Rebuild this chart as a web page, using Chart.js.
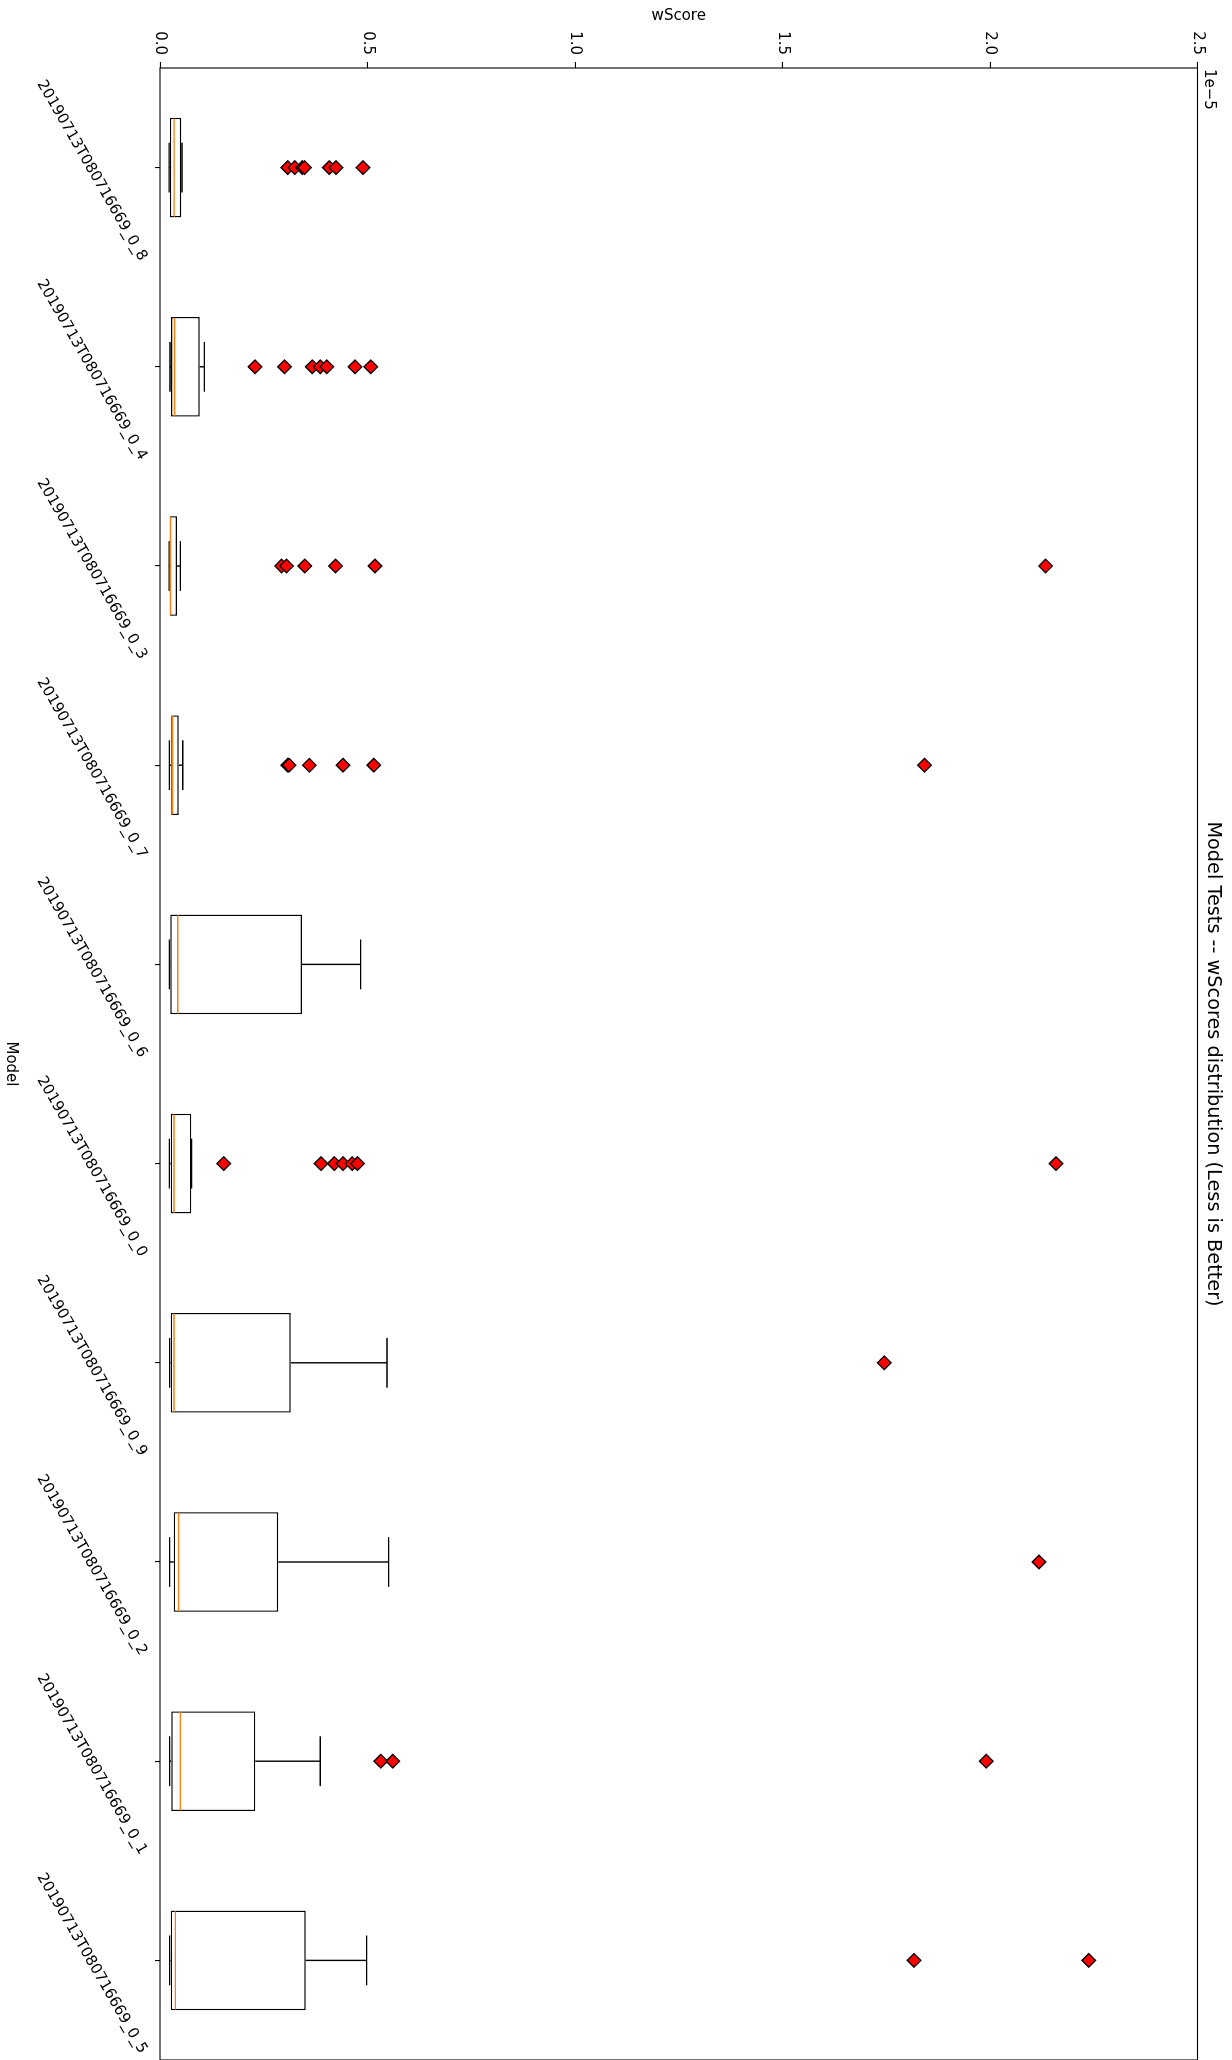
<!DOCTYPE html>
<html>
<head>
<meta charset="utf-8">
<title>Model Tests -- wScores distribution</title>
<script src="https://cdn.jsdelivr.net/npm/chart.js@4.4.1/dist/chart.umd.min.js"></script>
<style>
  html, body { margin: 0; padding: 0; background: #fff; overflow: hidden; }
  body { width: 1232px; height: 2060px; position: relative; }
  /* the figure is drawn upright, then turned a quarter clockwise like the reference */
  #wrap {
    position: absolute; left: 0; top: 0;
    width: 2060px; height: 1232px;
    transform-origin: 0 0;
    transform: translate(1232px, 0) rotate(90deg);
  }
</style>
</head>
<body>
<div id="wrap"><canvas id="chart" width="2060" height="1232"></canvas></div>
<script>
// 모델별 wScore 분포 (단위 1e-5)
const models = [
  '20190713T080716669_0_8', '20190713T080716669_0_4', '20190713T080716669_0_3',
  '20190713T080716669_0_7', '20190713T080716669_0_6', '20190713T080716669_0_0',
  '20190713T080716669_0_9', '20190713T080716669_0_2', '20190713T080716669_0_1',
  '20190713T080716669_0_5',
];
const whiskerLow  = [0.022, 0.024, 0.022, 0.0225, 0.0225, 0.0225, 0.0233, 0.0233, 0.0233, 0.0233];
const q1          = [0.024, 0.0265, 0.024, 0.027, 0.025, 0.0257, 0.0257, 0.033, 0.0273, 0.0257];
const medians     = [0.034, 0.035, 0.025, 0.0305, 0.0426, 0.0337, 0.0337, 0.045, 0.049, 0.037];
const q3          = [0.051, 0.0957, 0.041, 0.045, 0.342, 0.0755, 0.315, 0.285, 0.2297, 0.351];
const whiskerHigh = [0.053, 0.107, 0.049, 0.055, 0.4835, 0.076, 0.547, 0.551, 0.386, 0.498];
const outliers = [
  [0.308, 0.325, 0.343, 0.348, 0.408, 0.424, 0.489],
  [0.229, 0.300, 0.367, 0.386, 0.402, 0.470, 0.508],
  [0.293, 0.305, 0.349, 0.423, 0.518, 2.134],
  [0.308, 0.311, 0.360, 0.441, 0.515, 1.842],
  [],
  [0.1535, 0.388, 0.420, 0.441, 0.463, 0.476, 2.159],
  [1.745],
  [2.118],
  [0.532, 0.561, 1.991],
  [1.817, 2.238],
];
const yTicks = [0.0, 0.5, 1.0, 1.5, 2.0, 2.5];

const FONT = 'DejaVu Sans';
Chart.defaults.font.family = FONT;
Chart.defaults.color = '#000';

// 수염, 캡, 중앙값 그리기
const boxPlot = {
  id: 'boxPlot',
  afterDatasetsDraw(chart) {
    const { ctx, scales: { x, y } } = chart;
    const half = (x.getPixelForValue(1) - x.getPixelForValue(0)) * 0.25;
    const cap = half / 2;
    ctx.save();
    models.forEach((m, i) => {
      const cx = x.getPixelForValue(i);
      const yLo = y.getPixelForValue(whiskerLow[i]);
      const yHi = y.getPixelForValue(whiskerHigh[i]);
      ctx.strokeStyle = '#000';
      ctx.lineWidth = 1.4;
      ctx.beginPath();
      ctx.moveTo(cx, y.getPixelForValue(q1[i]));
      ctx.lineTo(cx, yLo);
      ctx.moveTo(cx, y.getPixelForValue(q3[i]));
      ctx.lineTo(cx, yHi);
      ctx.moveTo(cx - cap, yLo);
      ctx.lineTo(cx + cap, yLo);
      ctx.moveTo(cx - cap, yHi);
      ctx.lineTo(cx + cap, yHi);
      ctx.stroke();
      const ym = y.getPixelForValue(medians[i]);
      ctx.strokeStyle = '#ff7f0e';
      ctx.beginPath();
      ctx.moveTo(cx - half + 0.7, ym);
      ctx.lineTo(cx + half - 0.7, ym);
      ctx.stroke();
    });
    ctx.restore();
  },
  afterDraw(chart) {
    const { ctx, chartArea: a } = chart;
    ctx.save();
    ctx.strokeStyle = '#000';
    ctx.lineWidth = 1.1;
    ctx.strokeRect(a.left, a.top, a.right - a.left, a.bottom - a.top);
    ctx.fillStyle = '#000';
    ctx.textBaseline = 'middle';
    ctx.textAlign = 'center';
    ctx.font = `19.3px "${FONT}"`;
    ctx.fillText('Model Tests -- wScores distribution (Less is Better)', (a.left + a.right) / 2, 19);
    ctx.textAlign = 'left';
    ctx.font = `15px "${FONT}"`;
    ctx.fillText('1e\u22125', a.left + 1, 23);
    ctx.restore();
  },
};

const points = [];
outliers.forEach((list, i) => list.forEach((v) => points.push({ x: models[i], y: v })));

new Chart(document.getElementById('chart'), {
  type: 'bar',
  data: {
    labels: models,
    datasets: [
      {
        type: 'scatter',
        data: points,
        pointStyle: 'rectRot',
        pointRadius: 6.8,
        backgroundColor: '#ff0000',
        borderColor: '#000',
        borderWidth: 1.3,
        order: 0,
      },
      {
        data: q1.map((v, i) => [v, q3[i]]),
        backgroundColor: '#fff',
        borderColor: '#000',
        borderWidth: 1.4,
        borderSkipped: false,
        barPercentage: 0.5,
        categoryPercentage: 1.0,
        order: 1,
      },
    ],
  },
  options: {
    responsive: false,
    devicePixelRatio: 1,
    animation: false,
    layout: { autoPadding: false, padding: { top: 34.5, left: 0, right: 0, bottom: 0 } },
    plugins: {
      legend: { display: false },
      tooltip: { enabled: false },
    },
    scales: {
      x: {
        type: 'category',
        offset: true,
        border: { display: false },
        grid: { drawOnChartArea: false, offset: false, tickLength: 5, color: '#000', lineWidth: 1.1 },
        ticks: {
          autoSkip: false, minRotation: 30, maxRotation: 30,
          labelOffset: 92, padding: 4, color: '#000', font: { size: 15 },
        },
        title: { display: true, text: 'Model', color: '#000', font: { size: 15 }, padding: { top: 0, bottom: 2 } },
        afterFit: (s) => { s.height = 160; s.paddingLeft = 0; s.paddingRight = 0; },
      },
      y: {
        min: 0,
        max: 2.5,
        border: { display: false },
        grid: { drawOnChartArea: false, tickLength: 6, color: '#000', lineWidth: 1.1 },
        afterBuildTicks: (s) => { s.ticks = yTicks.map((v) => ({ value: v })); },
        ticks: { callback: (v) => Number(v).toFixed(1), padding: 7, color: '#000', font: { size: 15 } },
        title: { display: true, text: 'wScore', color: '#000', font: { size: 15 }, padding: { top: 7, bottom: 0 } },
        afterFit: (s) => { s.width = 68; s.paddingTop = 0; s.paddingBottom = 0; },
      },
    },
  },
  plugins: [boxPlot],
});
</script>
</body>
</html>
